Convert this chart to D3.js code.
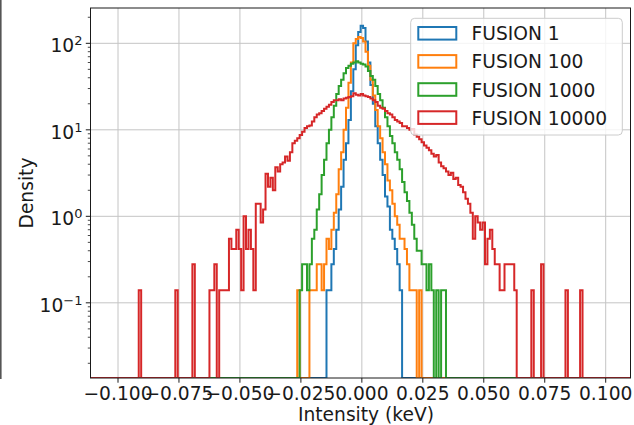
<!DOCTYPE html>
<html>
<head>
<meta charset="utf-8">
<script src="https://cdn.jsdelivr.net/npm/d3@7"></script>
<style>
  html, body { margin: 0; padding: 0; background: #fff; }
  svg { display: block; font-family: "DejaVu Sans", sans-serif; }
</style>
</head>
<body>
<svg id="chart" width="634" height="425"></svg>
<script>
// Histogram densities (step outline), one value per bin of width 0.001 keV.
// Each series lists consecutive bins starting at the given bin centre; bins outside are empty.
const binWidth = 0.001;
const binCentreFirst = -0.111;
const binCentreLast = 0.109;

const seriesNames = ["FUSION 1", "FUSION 100", "FUSION 1000", "FUSION 10000"];
const seriesColors = ["#1f77b4", "#ff7f0e", "#2ca02c", "#d62728"];

const fusion1Start = -0.014;
const fusion1 = [0.14, 0.14, 0.28, 0.42, 0.7, 1.2, 2.2, 4.5, 7, 13, 28, 50, 95, 135,
  160, 150, 105, 60, 33, 20, 11, 7, 4.5, 3, 1.7, 1.3, 0.7, 0.55, 0.42, 0.28, 0.14];

const fusion100Start = -0.026;
const fusion100 = [0.14, 0, 0, 0, 0, 0.14, 0.14, 0.14, 0.28, 0.28, 0.14, 0.28, 0.55, 0.42,
  0.7, 1.1, 1.8, 3.5, 5.5, 10, 18, 35, 60, 100, 112, 118,
  115, 105, 80, 55, 38, 25, 17, 11, 8, 5.5, 4, 2.6, 2, 1.4, 1.0, 0.8, 0.55, 0.55, 0.42,
  0.28, 0.14, 0.14, 0.14, 0, 0.14];

const fusion1000Start = -0.025;
const fusion1000 = [0.14, 0.28, 0.28, 0.14, 0.28, 0.55, 0.7, 1.2, 1.8, 3, 4.5, 7, 10, 14,
  19, 26, 32, 38, 45, 52, 55, 58, 60, 62, 60,
  58, 57, 54, 48, 42, 38, 32, 26, 22, 18, 14, 11, 8.5, 7, 5.5, 4.5, 3.5, 2.5, 1.9, 1.5,
  1.1, 0.8, 0.55, 0.4, 0.4, 0.28, 0.28, 0.14, 0.28, 0.14, 0, 0.14, 0, 0.14, 0.14];

const fusion10000Start = -0.091;
const fusion10000 = [0.14, 0, 0, 0, 0, 0, 0, 0, 0, 0, 0, 0, 0, 0, 0,
  0.14, 0, 0, 0, 0, 0, 0,
  0.28, 0, 0, 0, 0, 0, 0,
  0.14, 0.14, 0.28, 0, 0.14, 0.14, 0.14, 0.14, 0.55, 0.42, 0.42, 0.7, 0.42, 0.14,
  1.0, 0.42, 0.7, 0.42, 0.14, 1.4, 1.4, 0.85, 1.2, 3.1, 2.2, 2.8, 2.0, 3.7, 3.3, 4.0,
  4.2, 4.9, 4.4, 5.5, 7.0, 7.5, 8.0, 8.7, 9.5, 10.5, 11, 11.2, 12.5, 14, 15, 15.5, 16.5,
  17.5, 18.5, 19.5, 21, 22, 22, 22.5, 22, 23, 23.5, 24, 24.5, 26.5, 25.5, 25,
  26, 25, 24.5, 24, 23, 22, 21, 19, 18, 17.5, 16.5, 15.5, 15, 14, 13, 12.5, 12, 11,
  11, 10.5, 10, 10.2, 8.8, 8.3, 7.8, 7.2, 6.6, 6.2, 5.8, 5.3, 4.9, 5.1, 4.2, 3.8, 3.6,
  3.3, 3.0, 3.2, 2.7, 2.8, 2.3, 2.2, 1.9, 1.6, 1.4, 1.1, 0.55, 1.0, 0.85, 0.7, 0.85,
  0.28, 0.55, 0.7, 0.42, 0.28, 0.28, 0.14, 0.14, 0.28, 0.28, 0.28, 0.28, 0.14,
  0, 0, 0, 0, 0, 0, 0.14, 0, 0, 0, 0.28, 0, 0, 0, 0, 0, 0, 0, 0, 0, 0.14,
  0, 0, 0, 0, 0, 0.14];

const seriesStarts = [fusion1Start, fusion100Start, fusion1000Start, fusion10000Start];
const seriesValues = [fusion1, fusion100, fusion1000, fusion10000];

const xTicks = [-0.1, -0.075, -0.05, -0.025, 0, 0.025, 0.05, 0.075, 0.1];
const yTicks = [0.1, 1, 10, 100];
const xDomain = [-0.11128, 0.11017];
const yDomain = [0.01352, 256];

const xTitle = "Intensity (keV)";
const yTitle = "Density";

// ---- layout ----
const svg = d3.select("#chart");
const plot = { left: 90.5, right: 630.5, top: 8, bottom: 378 };
const fontSize = 18.67;

const x = d3.scaleLinear().domain(xDomain).range([plot.left, plot.right]);
const y = d3.scaleLog().domain(yDomain).range([plot.bottom, plot.top]);

svg.append("rect").attr("width", 634).attr("height", 425).attr("fill", "#fff");

// neighbouring panel edge at far left
svg.append("line")
  .attr("x1", 0.8).attr("x2", 0.8).attr("y1", 0).attr("y2", plot.bottom + 1)
  .attr("stroke", "#555").attr("stroke-width", 1.6);

// grid
const grid = svg.append("g").attr("stroke", "#c4c4c4").attr("stroke-width", 1);
grid.selectAll("line.gx").data(xTicks).join("line")
  .attr("x1", d => x(d)).attr("x2", d => x(d))
  .attr("y1", plot.top).attr("y2", plot.bottom);
grid.selectAll("line.gy").data(yTicks).join("line")
  .attr("x1", plot.left).attr("x2", plot.right)
  .attr("y1", d => y(d)).attr("y2", d => y(d));

// clip for the histogram outlines
svg.append("clipPath").attr("id", "plotClip")
  .append("rect")
  .attr("x", plot.left).attr("y", plot.top)
  .attr("width", plot.right - plot.left).attr("height", plot.bottom - plot.top);

// build full step series over every bin; empty bins sit on the axis floor
function fullSeries(start, values) {
  const n = Math.round((binCentreLast - binCentreFirst) / binWidth) + 1;
  const pts = [];
  for (let i = 0; i < n; i++) {
    const c = binCentreFirst + i * binWidth;
    const j = Math.round((c - start) / binWidth);
    const d = (j >= 0 && j < values.length) ? values[j] : 0;
    pts.push([c - binWidth / 2, d]);
  }
  pts.push([xDomain[1], pts[pts.length - 1][1]]);
  return pts;
}

const line = d3.line()
  .x(d => x(d[0]))
  .y(d => d[1] > 0 ? y(d[1]) : y(yDomain[0]))
  .curve(d3.curveStepAfter);

const marks = svg.append("g").attr("clip-path", "url(#plotClip)");
seriesValues.forEach((vals, i) => {
  marks.append("path")
    .attr("d", line(fullSeries(seriesStarts[i], vals)))
    .attr("fill", "none")
    .attr("stroke", seriesColors[i])
    .attr("stroke-width", 2)
    .attr("stroke-linejoin", "miter");
});

// frame
svg.append("rect")
  .attr("x", plot.left).attr("y", plot.top)
  .attr("width", plot.right - plot.left).attr("height", plot.bottom - plot.top)
  .attr("fill", "none").attr("stroke", "#1a1a1a").attr("stroke-width", 1);

// x axis ticks and labels
const xAxis = svg.append("g");
xAxis.selectAll("line").data(xTicks).join("line")
  .attr("x1", d => x(d)).attr("x2", d => x(d))
  .attr("y1", plot.bottom).attr("y2", plot.bottom + 4.7)
  .attr("stroke", "#1a1a1a").attr("stroke-width", 1);
const fmt = d3.format(".3f");
xAxis.selectAll("text").data(xTicks).join("text")
  .attr("x", d => x(d)).attr("y", 399.5)
  .attr("text-anchor", "middle")
  .attr("font-size", fontSize).attr("fill", "#1a1a1a")
  .text(d => fmt(d).replace("-", "\u2212"));

// y axis: minor and major ticks
const minorTicks = y.ticks().filter(v => !yTicks.some(t => Math.abs(t - v) / t < 1e-9));
svg.append("g").selectAll("line").data(minorTicks).join("line")
  .attr("x1", plot.left - 2.7).attr("x2", plot.left)
  .attr("y1", d => y(d)).attr("y2", d => y(d))
  .attr("stroke", "#1a1a1a").attr("stroke-width", 0.8);
svg.append("g").selectAll("line").data(yTicks).join("line")
  .attr("x1", plot.left - 4.7).attr("x2", plot.left)
  .attr("y1", d => y(d)).attr("y2", d => y(d))
  .attr("stroke", "#1a1a1a").attr("stroke-width", 1);

const yLabels = svg.append("g").selectAll("text").data(yTicks).join("text")
  .attr("x", 82.5).attr("y", d => y(d) + 9)
  .attr("text-anchor", "end")
  .attr("font-size", fontSize).attr("fill", "#1a1a1a");
yLabels.append("tspan").text("10");
yLabels.append("tspan")
  .attr("font-size", 13).attr("dy", -7)
  .text(d => {
    const e = Math.round(Math.log10(d));
    return e < 0 ? "\u2212" + Math.abs(e) : String(e);
  });

// axis titles
svg.append("text")
  .attr("x", 366).attr("y", 421)
  .attr("text-anchor", "middle")
  .attr("font-size", fontSize).attr("fill", "#1a1a1a")
  .text(xTitle);
svg.append("text")
  .attr("transform", `translate(32.5, ${(plot.top + plot.bottom) / 2}) rotate(-90)`)
  .attr("text-anchor", "middle")
  .attr("font-size", fontSize).attr("fill", "#1a1a1a")
  .text(yTitle);

// legend
const legend = svg.append("g");
legend.append("rect")
  .attr("x", 410.7).attr("y", 18.3).attr("width", 211.6).attr("height", 116.7)
  .attr("rx", 4).attr("ry", 4)
  .attr("fill", "#fff").attr("fill-opacity", 0.8)
  .attr("stroke", "#cccccc").attr("stroke-width", 1);
const rows = legend.selectAll("g.row").data(seriesNames).join("g")
  .attr("transform", (d, i) => `translate(0, ${33.3 + i * 28.1})`);
rows.append("rect")
  .attr("x", 418.3).attr("y", -6.3).attr("width", 38).attr("height", 12.6)
  .attr("fill", "none")
  .attr("stroke", (d, i) => seriesColors[i]).attr("stroke-width", 2);
rows.append("text")
  .attr("x", 471.5).attr("y", 7)
  .attr("font-size", fontSize).attr("fill", "#1a1a1a")
  .text(d => d);
</script>
</body>
</html>
